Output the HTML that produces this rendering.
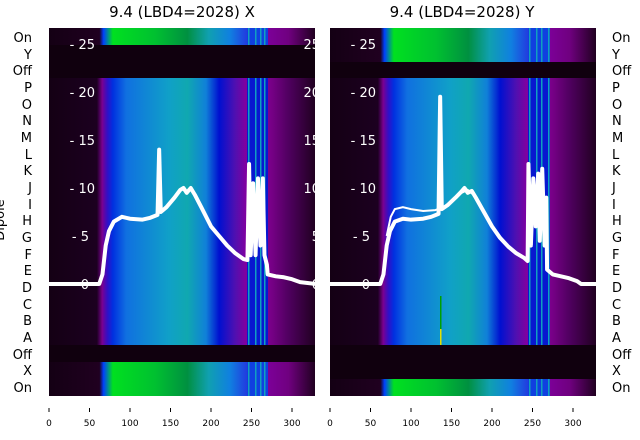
<!DOCTYPE html>
<html><head><meta charset="utf-8"><style>
body{margin:0;background:#fff;}
svg{display:block;font-family:"DejaVu Sans","Liberation Sans",sans-serif;}
</style></head><body>
<svg width="640" height="440" viewBox="0 0 640 440" xmlns="http://www.w3.org/2000/svg">
<defs>
<linearGradient id="dg" x1="0" x2="1" y1="0" y2="0">
<stop offset="0" stop-color="#140014"/><stop offset="0.18" stop-color="#1c0020"/>
<stop offset="0.2" stop-color="#7a0090"/><stop offset="0.22" stop-color="#3010c8"/>
<stop offset="0.24" stop-color="#0030e0"/><stop offset="0.29" stop-color="#1070e0"/>
<stop offset="0.45" stop-color="#10a0c8"/><stop offset="0.52" stop-color="#10a8b0"/>
<stop offset="0.59" stop-color="#1080d8"/><stop offset="0.64" stop-color="#0010d0"/>
<stop offset="0.7" stop-color="#5010b0"/><stop offset="0.74" stop-color="#8000a0"/>
<stop offset="0.82" stop-color="#800090"/><stop offset="0.9" stop-color="#500060"/>
<stop offset="1" stop-color="#200020"/>
</linearGradient>
<linearGradient id="gg" x1="0" x2="1" y1="0" y2="0">
<stop offset="0" stop-color="#140014"/><stop offset="0.19" stop-color="#200020"/>
<stop offset="0.205" stop-color="#0040ff"/><stop offset="0.24" stop-color="#00e020"/>
<stop offset="0.4" stop-color="#00c030"/><stop offset="0.52" stop-color="#009040"/>
<stop offset="0.6" stop-color="#10a0b0"/><stop offset="0.68" stop-color="#1080e0"/>
<stop offset="0.74" stop-color="#2040e0"/><stop offset="0.8" stop-color="#8000a0"/>
<stop offset="0.9" stop-color="#700080"/><stop offset="1" stop-color="#200020"/>
</linearGradient>
<clipPath id="cl"><rect x="49" y="28" width="266" height="368"/></clipPath>
<clipPath id="cr"><rect x="330" y="28" width="266" height="368"/></clipPath>
</defs>
<text x="182" y="17" font-size="15" text-anchor="middle">9.4 (LBD4=2028) X</text>
<text x="462" y="17" font-size="15" text-anchor="middle">9.4 (LBD4=2028) Y</text>

<!-- left panel -->
<g clip-path="url(#cl)">
<rect x="49" y="28" width="266" height="17" fill="url(#gg)"/>
<rect x="49" y="45" width="266" height="33" fill="#10000e"/>
<rect x="49" y="78" width="266" height="267" fill="url(#dg)"/>
<rect x="49" y="345" width="266" height="17" fill="#10000e"/>
<rect x="49" y="362" width="266" height="34" fill="url(#gg)"/>
<rect x="247" y="78" width="21" height="267" fill="#0818d0"/>
<rect x="247" y="28" width="21" height="17" fill="#1040e0"/>
<rect x="247" y="362" width="21" height="34" fill="#1040e0"/>
<g fill="#10a0c0"><rect x="248" y="28" width="1.5" height="17"/><rect x="255" y="28" width="1.5" height="17"/><rect x="260" y="28" width="1.5" height="17"/><rect x="264" y="28" width="1.5" height="17"/>
<rect x="248" y="78" width="1.5" height="267"/><rect x="255" y="78" width="1.5" height="267"/><rect x="260" y="78" width="1.5" height="267"/><rect x="264" y="78" width="1.5" height="267"/>
<rect x="248" y="362" width="1.5" height="34"/><rect x="255" y="362" width="1.5" height="34"/><rect x="260" y="362" width="1.5" height="34"/><rect x="264" y="362" width="1.5" height="34"/></g>
<g fill="#fff" font-size="13" text-anchor="end">
<text x="95" y="49">- 25</text><text x="95" y="97">- 20</text><text x="95" y="145">- 15</text><text x="95" y="193">- 10</text><text x="89" y="241">- 5</text><text x="89" y="289">0</text>
<text x="320" y="49">25</text><text x="320" y="97">20</text><text x="320" y="145">15</text><text x="320" y="193">10</text><text x="320" y="241">5</text><text x="320" y="289">0</text>
</g>
<g transform="translate(49,284) scale(0.81,-9.6)">
<polyline fill="none" stroke="#fff" stroke-width="4" vector-effect="non-scaling-stroke" stroke-linejoin="round" points="0,0 62,0 66,1 70,4 74,5.5 80,6.5 90,7 100,6.8 115,6.7 125,6.9 134,7.2 136,14 138,7.5 145,8 155,9 162,9.8 166,10 170,9.5 175,10 180,9.3 188,8 200,6 210,5 220,4 230,3.2 240,2.6 245,2.5 247,12.5 249,3 252,10.5 255,3 258,11 261,4 264,11 266,3 269,2 270,1 280,0.8 290,0.7 300,0.5 310,0.2 330,0"/>
</g>
</g>

<!-- right panel -->
<g clip-path="url(#cr)">
<rect x="330" y="28" width="266" height="34" fill="url(#gg)"/>
<rect x="330" y="62" width="266" height="16" fill="#10000e"/>
<rect x="330" y="78" width="266" height="267" fill="url(#dg)"/>
<rect x="330" y="345" width="266" height="34" fill="#10000e"/>
<rect x="330" y="379" width="266" height="17" fill="url(#gg)"/>
<rect x="528" y="78" width="22" height="267" fill="#0818d0"/>
<rect x="528" y="28" width="22" height="34" fill="#1040e0"/>
<rect x="528" y="379" width="22" height="17" fill="#1040e0"/>
<g fill="#10a0c0"><rect x="529" y="28" width="1.5" height="34"/><rect x="536" y="28" width="1.5" height="34"/><rect x="541" y="28" width="1.5" height="34"/><rect x="548" y="28" width="1.5" height="34"/>
<rect x="529" y="78" width="1.5" height="267"/><rect x="536" y="78" width="1.5" height="267"/><rect x="541" y="78" width="1.5" height="267"/><rect x="548" y="78" width="1.5" height="267"/>
<rect x="529" y="379" width="1.5" height="17"/><rect x="536" y="379" width="1.5" height="17"/><rect x="541" y="379" width="1.5" height="17"/><rect x="548" y="379" width="1.5" height="17"/></g>
<rect x="440" y="296" width="1.5" height="33" fill="#00a000"/><rect x="440" y="329" width="1.5" height="16" fill="#e0e000"/>
<g fill="#fff" font-size="13" text-anchor="end">
<text x="376" y="49">- 25</text><text x="376" y="97">- 20</text><text x="376" y="145">- 15</text><text x="376" y="193">- 10</text><text x="370" y="241">- 5</text><text x="370" y="289">0</text>
</g>
<g transform="translate(330,284) scale(0.81,-9.6)">
<polyline fill="none" stroke="#fff" stroke-width="4" vector-effect="non-scaling-stroke" stroke-linejoin="round" points="0,0 62,0 66,1 70,4 74,5.5 80,6.5 90,6.8 100,6.7 115,6.8 125,7 134,7.3 136,19.5 138,7.8 145,8.2 155,9 162,9.6 166,10 170,9.5 175,9.7 180,9 188,7.8 200,6 210,4.8 220,3.9 230,3.2 240,2.7 244,2.4 245,12.5 248,4 251,11 254,6 257,11.5 259,4.5 262,12 265,4 267,9 268,1.5 275,1 285,0.8 295,0.6 305,0.3 310,0 330,0"/>
<polyline fill="none" stroke="#fff" stroke-width="2" vector-effect="non-scaling-stroke" points="70,5 75,7 80,7.8 90,8 100,7.8 115,7.6 130,7.7 140,8 150,8.6 160,9.4 170,9.8 180,9.1"/>
</g>
</g>

<!-- row labels -->
<g font-size="13" fill="#000">
<g text-anchor="end">
<text x="32" y="42">On</text><text x="32" y="59">Y</text><text x="32" y="75">Off</text><text x="32" y="92">P</text><text x="32" y="109">O</text><text x="32" y="125">N</text><text x="32" y="142">M</text><text x="32" y="159">L</text><text x="32" y="175">K</text><text x="32" y="192">J</text><text x="32" y="209">I</text><text x="32" y="225">H</text><text x="32" y="242">G</text><text x="32" y="259">F</text><text x="32" y="275">E</text><text x="32" y="292">D</text><text x="32" y="309">C</text><text x="32" y="325">B</text><text x="32" y="342">A</text><text x="32" y="359">Off</text><text x="32" y="375">X</text><text x="32" y="392">On</text>
</g>
<g text-anchor="start">
<text x="612" y="42">On</text><text x="612" y="59">Y</text><text x="612" y="75">Off</text><text x="612" y="92">P</text><text x="612" y="109">O</text><text x="612" y="125">N</text><text x="612" y="142">M</text><text x="612" y="159">L</text><text x="612" y="175">K</text><text x="612" y="192">J</text><text x="612" y="209">I</text><text x="612" y="225">H</text><text x="612" y="242">G</text><text x="612" y="259">F</text><text x="612" y="275">E</text><text x="612" y="292">D</text><text x="612" y="309">C</text><text x="612" y="325">B</text><text x="612" y="342">A</text><text x="612" y="359">Off</text><text x="612" y="375">X</text><text x="612" y="392">On</text>
</g>
<text x="4" y="220" font-size="13" text-anchor="middle" transform="rotate(-90 4 220)">Dipole</text>
</g>

<!-- x ticks -->
<g stroke="#000" stroke-width="1">
<line x1="49" y1="408" x2="49" y2="412"/><line x1="89.5" y1="408" x2="89.5" y2="412"/><line x1="130" y1="408" x2="130" y2="412"/><line x1="170.5" y1="408" x2="170.5" y2="412"/><line x1="211" y1="408" x2="211" y2="412"/><line x1="251.5" y1="408" x2="251.5" y2="412"/><line x1="292" y1="408" x2="292" y2="412"/>
<line x1="330" y1="408" x2="330" y2="412"/><line x1="370.5" y1="408" x2="370.5" y2="412"/><line x1="411" y1="408" x2="411" y2="412"/><line x1="451.5" y1="408" x2="451.5" y2="412"/><line x1="492" y1="408" x2="492" y2="412"/><line x1="532.5" y1="408" x2="532.5" y2="412"/><line x1="573" y1="408" x2="573" y2="412"/>
</g>
<g font-size="9" text-anchor="middle" fill="#000">
<text x="49" y="426">0</text><text x="89.5" y="426">50</text><text x="130" y="426">100</text><text x="170.5" y="426">150</text><text x="211" y="426">200</text><text x="251.5" y="426">250</text><text x="292" y="426">300</text>
<text x="330" y="426">0</text><text x="370.5" y="426">50</text><text x="411" y="426">100</text><text x="451.5" y="426">150</text><text x="492" y="426">200</text><text x="532.5" y="426">250</text><text x="573" y="426">300</text>
</g>
</svg>
</body></html>
